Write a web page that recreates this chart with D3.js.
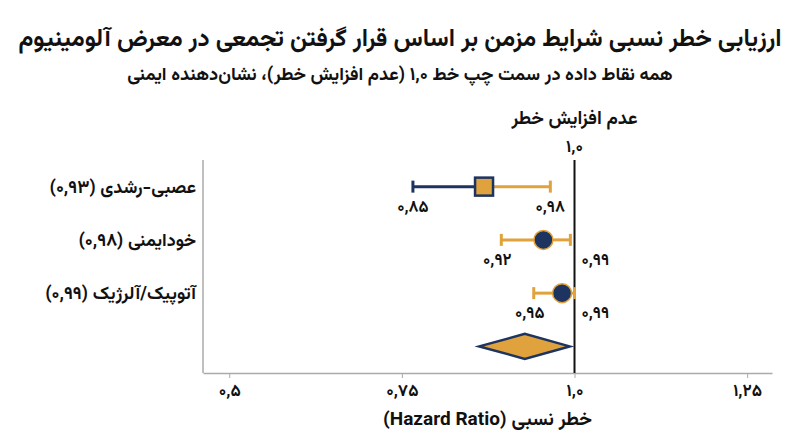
<!DOCTYPE html>
<html><head><meta charset="utf-8">
<script src="https://cdn.jsdelivr.net/npm/d3@7"></script>
<style>
html,body{margin:0;padding:0;background:#fff;}
svg text{font-family:Vazirmatn,"Noto Sans Arabic","DejaVu Sans",sans-serif;font-weight:bold;fill:#111;}
</style></head>
<body><svg id="c" width="800" height="447"></svg>
<script>
// ---- data ----
const categories = ["عصبی-رشدی (۰,۹۳)", "خودایمنی (۰,۹۸)", "آتوپیک/آلرژیک (۰,۹۹)"];
// plotted positions
const hrPlotted   = [0.869, 0.955, 0.982];
const lowPlotted  = [0.766, 0.894, 0.941];
const highPlotted = [0.965, 0.994, 1.000];
// reported CI labels
const lowLabels  = ["۰,۸۵", "۰,۹۲", "۰,۹۵"];
const highLabels = ["۰,۹۸", "۰,۹۹", "۰,۹۹"];
const markerShapes = ["square", "circle", "circle"];
// pooled estimate diamond
const pooled = {low: 0.862, est: 0.928, high: 0.993};
const tickValues = [0.5, 0.75, 1.0, 1.25];
const tickLabels = ["۰,۵", "۰,۷۵", "۱,۰", "۱,۲۵"];
const refValue = 1.0;
const refLabel = "۱,۰";
const refTitle = "عدم افزایش خطر";
const title = "ارزیابی خطر نسبی شرایط مزمن بر اساس قرار گرفتن تجمعی در معرض آلومینیوم";
const subtitle = "همه نقاط داده در سمت چپ خط ۱,۰ (عدم افزایش خطر)، نشان‌دهنده ایمنی";
const xTitle = "خطر نسبی (Hazard Ratio)";

// ---- layout ----
const navy = "#1d3461", orange = "#e0a23c";
const L = 203, R = 772, T = 160, B = 373;
const svg = d3.select("#c");
const x = d3.scaleLinear().domain([0.462, 1.286]).range([L, R]);
const y = d3.scaleBand().domain(d3.range(categories.length + 1)).range([T, B]);
const yc = i => y(i) + y.bandwidth() / 2;

// titles
svg.append("text").attr("x", 400).attr("y", 46).attr("text-anchor", "middle").attr("direction", "rtl")
  .style("font-size", "24.3px").text(title);
svg.append("text").attr("x", 400).attr("y", 80).attr("text-anchor", "middle").attr("direction", "rtl")
  .style("font-size", "18.3px").text(subtitle);

// left frame
svg.append("line").attr("x1", L).attr("x2", L).attr("y1", T).attr("y2", B)
  .attr("stroke", "#aaa").attr("stroke-width", 1.5);

// axis
const axis = d3.axisBottom(x).tickValues(tickValues).tickFormat((d, i) => tickLabels[i]).tickSize(5).tickSizeOuter(0);
const ax = svg.append("g").attr("transform", `translate(0,${B})`).call(axis);
ax.select(".domain").attr("stroke", "#aaa").attr("stroke-width", 1.5);
ax.selectAll(".tick line").attr("stroke", "#aaa");
ax.selectAll(".tick text").attr("dy", 0).attr("y", 23).style("font-size", "17px")
  .style("font-family", 'Vazirmatn,"Noto Sans Arabic","DejaVu Sans",sans-serif').style("font-weight", "bold").attr("fill", "#111");

svg.append("text").attr("x", (L + R) / 2).attr("y", 425).attr("text-anchor", "middle").attr("direction", "rtl")
  .style("font-size", "19px").text(xTitle);

// reference line
svg.append("line").attr("x1", x(refValue)).attr("x2", x(refValue)).attr("y1", T).attr("y2", B)
  .attr("stroke", "#111").attr("stroke-width", 2);
svg.append("text").attr("x", x(refValue)).attr("y", 124).attr("text-anchor", "middle").attr("direction", "rtl")
  .style("font-size", "18.5px").text(refTitle);
svg.append("text").attr("x", x(refValue)).attr("y", 152).attr("text-anchor", "middle")
  .style("font-size", "17px").text(refLabel);

// category labels
svg.selectAll(".cat").data(categories).join("text").attr("class", "cat")
  .attr("x", 196).attr("y", (d, i) => yc(i)).attr("dy", "0.35em")
  .attr("direction", "rtl").attr("text-anchor", "start").style("font-size", "18px").text(d => d);

// whiskers
categories.forEach((c, i) => {
  const cy = yc(i);
  const g = svg.append("g");
  const leftCol = i === 0 ? navy : orange;
  g.append("line").attr("x1", x(lowPlotted[i])).attr("x2", x(hrPlotted[i])).attr("y1", cy).attr("y2", cy)
    .attr("stroke", leftCol).attr("stroke-width", 3);
  g.append("line").attr("x1", x(hrPlotted[i])).attr("x2", x(highPlotted[i])).attr("y1", cy).attr("y2", cy)
    .attr("stroke", orange).attr("stroke-width", 3);
  g.append("line").attr("x1", x(lowPlotted[i])).attr("x2", x(lowPlotted[i])).attr("y1", cy - 6).attr("y2", cy + 6)
    .attr("stroke", leftCol).attr("stroke-width", 3);
  g.append("line").attr("x1", x(highPlotted[i])).attr("x2", x(highPlotted[i])).attr("y1", cy - 6).attr("y2", cy + 6)
    .attr("stroke", orange).attr("stroke-width", 3);
  if (markerShapes[i] === "square") {
    g.append("rect").attr("x", x(hrPlotted[i]) - 9).attr("y", cy - 9).attr("width", 18).attr("height", 18)
      .attr("fill", orange).attr("stroke", navy).attr("stroke-width", 2.5);
  } else {
    g.append("circle").attr("cx", x(hrPlotted[i])).attr("cy", cy).attr("r", 9.5)
      .attr("fill", navy).attr("stroke", orange).attr("stroke-width", 1.5);
  }
  // CI labels
  g.append("text").attr("x", x(lowPlotted[i]) - (i === 0 ? 0 : 4)).attr("y", cy + 25)
    .attr("text-anchor", "middle").style("font-size", "16.5px").text(lowLabels[i]);
  const nearRef = highPlotted[i] >= 0.99;
  g.append("text").attr("x", nearRef ? x(refValue) + 7 : x(highPlotted[i])).attr("y", cy + 25)
    .attr("text-anchor", nearRef ? "start" : "middle").style("font-size", "16.5px").text(highLabels[i]);
});

// pooled diamond
const dy = yc(categories.length), hh = 12.5;
svg.append("path")
  .attr("d", `M${x(pooled.low)},${dy} L${x(pooled.est)},${dy - hh} L${x(pooled.high)},${dy} L${x(pooled.est)},${dy + hh} Z`)
  .attr("fill", orange).attr("stroke", navy).attr("stroke-width", 2.5).attr("stroke-linejoin", "miter");
</script></body></html>
